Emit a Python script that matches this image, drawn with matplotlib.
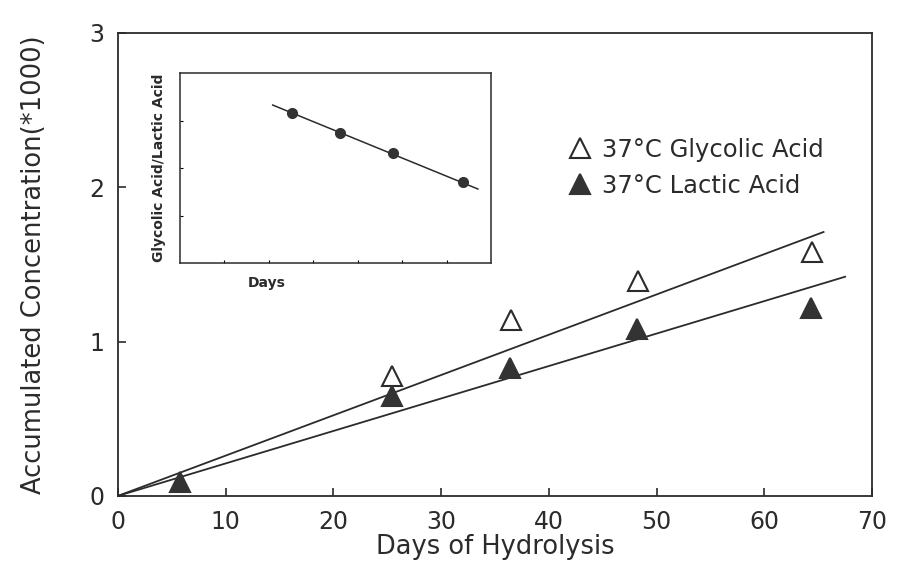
import numpy as np
import matplotlib
matplotlib.use('Agg')
import matplotlib.pyplot as plt

# main plot data
days_glycolic = [25.4, 36.5, 48.3, 64.4]
conc_glycolic = [0.78, 1.14, 1.39, 1.58]
days_lactic = [5.8, 25.4, 36.4, 48.2, 64.3]
conc_lactic = [0.09, 0.645, 0.83, 1.08, 1.22]

# fitted lines (end points)
fit_glycolic_x = [0, 65.5]
fit_glycolic_y = [0, 1.71]
fit_lactic_x = [0, 67.5]
fit_lactic_y = [0, 1.42]

# inset: ratio glycolic/lactic vs days (no scale in original)
inset_x = [2.52, 3.6, 4.8, 6.36]
inset_y = [3.16, 2.74, 2.31, 1.7]
inset_fit_x = [2.09, 6.7]
inset_fit_y = [3.33, 1.56]

x_ticks = [0, 10, 20, 30, 40, 50, 60, 70]
y_ticks = [0, 1, 2, 3]

plt.rcParams['font.family'] = ['DejaVu Sans']
ink = '#2b2b2b'

fig = plt.figure(figsize=(9.03, 5.68), dpi=100)
ax = fig.add_axes([0.1307, 0.127, 0.835, 0.815])

ax.plot(fit_glycolic_x, fit_glycolic_y, color=ink, lw=1.3)
ax.plot(fit_lactic_x, fit_lactic_y, color=ink, lw=1.3)
ax.plot(days_glycolic, conc_glycolic, linestyle='none', marker='^', ms=15,
        mfc='white', mec=ink, mew=1.5, label='37°C Glycolic Acid')
ax.plot(days_lactic, conc_lactic, linestyle='none', marker='^', ms=15,
        mfc='#333333', mec='#333333', mew=1.5, label='37°C Lactic Acid')

ax.set_xlim(0, 70)
ax.set_ylim(0, 3)
ax.set_xticks(x_ticks)
ax.set_yticks(y_ticks)
ax.tick_params(direction='in', length=6, width=1.2, labelsize=17, colors=ink,
               pad=10)
for s in ax.spines.values():
    s.set_linewidth(1.3)
    s.set_color(ink)

ax.set_xlabel('Days of Hydrolysis', fontsize=18.5, color=ink, labelpad=0)
ax.set_ylabel('Accumulated Concentration(*1000)', fontsize=18.5, color=ink,
              labelpad=30)

leg = ax.legend(loc='upper left', bbox_to_anchor=(0.58, 0.795), frameon=False,
                fontsize=17.5, handletextpad=0.3, labelspacing=0.5,
                borderaxespad=0, handlelength=1.2, labelcolor=ink)

# inset
ins = fig.add_axes([0.199, 0.537, 0.345, 0.334])
ins.plot(inset_fit_x, inset_fit_y, color=ink, lw=1.1)
ins.plot(inset_x, inset_y, linestyle='none', marker='o', ms=7,
         color='#333333')
ins.set_xlim(0, 7)
ins.set_ylim(0, 4)
ins.set_xticks([1, 2, 3, 4, 5, 6])
ins.set_yticks([1, 2, 3])
ins.tick_params(direction='in', length=2, width=0.8, labelbottom=False,
                labelleft=False)
for s in ins.spines.values():
    s.set_linewidth(1.1)
    s.set_color(ink)
ins.set_xlabel('Days', fontsize=10, fontweight='bold', color=ink)
ins.xaxis.set_label_coords(0.28, -0.07)
ins.set_ylabel('Glycolic Acid/Lactic Acid', fontsize=10, fontweight='bold',
               color=ink, labelpad=10)

fig.savefig('out.png', dpi=100)
